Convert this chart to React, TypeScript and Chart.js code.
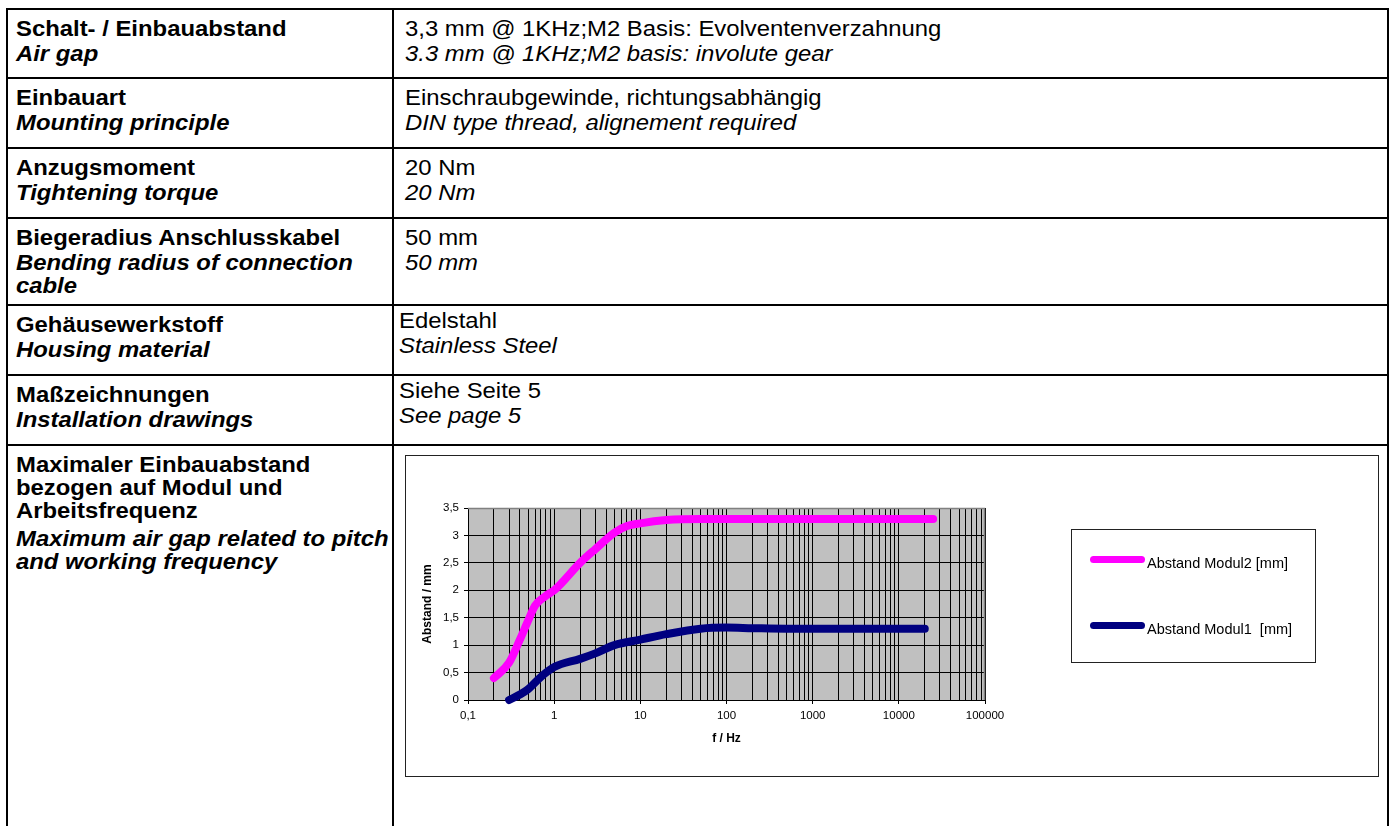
import React, { useEffect, useRef } from 'react';
import { Chart, registerables } from 'chart.js';

Chart.register(...registerables);

// ---------- data ----------
const modul2Freq = [0.2, 0.3, 0.4, 0.5, 0.6, 0.8, 1, 2, 3, 5, 7, 10, 20, 50, 100, 1000, 10000, 25000];
const modul2Gap = [0.4, 0.68, 1.1, 1.45, 1.72, 1.9, 2.0, 2.5, 2.75, 3.05, 3.17, 3.22, 3.28, 3.3, 3.3, 3.3, 3.3, 3.3];

const modul1Freq = [0.3, 0.4, 0.5, 0.7, 1, 2, 3, 5, 10, 20, 50, 100, 200, 500, 1000, 10000, 20000];
const modul1Gap = [0, 0.1, 0.2, 0.42, 0.6, 0.75, 0.85, 1.0, 1.1, 1.2, 1.3, 1.32, 1.31, 1.3, 1.3, 1.3, 1.3];

const seriesLabels = ['Abstand Modul2 [mm]', 'Abstand Modul1  [mm]'];
const seriesColors = ['#ff00ff', '#000080'];

const xMajorTicks = [0.1, 1, 10, 100, 1000, 10000, 100000];
const xTickLabels = ['0,1', '1', '10', '100', '1000', '10000', '100000'];
const xGridMultipliers = [1, 2, 3, 4, 5, 6, 7, 8, 9];

const yTicks = [0, 0.5, 1, 1.5, 2, 2.5, 3, 3.5];
const yTickLabels = ['0', '0,5', '1', '1,5', '2', '2,5', '3', '3,5'];

const xTitle = 'f / Hz';
const yTitle = 'Abstand / mm';

type Line = { text: string; alt?: boolean; gap?: number };
type Row = { left: Line[]; right: Line[] | null; shiftRight?: boolean };

const rows: Row[] = [
  {
    left: [{ text: 'Schalt- / Einbauabstand' }, { text: 'Air gap', alt: true, gap: 2 }],
    right: [
      { text: '3,3 mm @ 1KHz;M2 Basis: Evolventenverzahnung' },
      { text: '3.3 mm @ 1KHz;M2 basis: involute gear', alt: true, gap: 2 },
    ],
  },
  {
    left: [{ text: 'Einbauart' }, { text: 'Mounting principle', alt: true, gap: 2 }],
    right: [
      { text: 'Einschraubgewinde, richtungsabhängig' },
      { text: 'DIN type thread, alignement required', alt: true, gap: 2 },
    ],
  },
  {
    left: [{ text: 'Anzugsmoment' }, { text: 'Tightening torque', alt: true, gap: 2 }],
    right: [{ text: '20 Nm' }, { text: '20 Nm', alt: true, gap: 2 }],
  },
  {
    left: [
      { text: 'Biegeradius Anschlusskabel' },
      { text: 'Bending radius of connection', alt: true, gap: 2 },
      { text: 'cable', alt: true },
    ],
    right: [{ text: '50 mm' }, { text: '50 mm', alt: true, gap: 2 }],
  },
  {
    left: [{ text: 'Gehäusewerkstoff' }, { text: 'Housing material', alt: true, gap: 2 }],
    right: [{ text: 'Edelstahl' }, { text: 'Stainless Steel', alt: true, gap: 2 }],
    shiftRight: true,
  },
  {
    left: [{ text: 'Maßzeichnungen' }, { text: 'Installation drawings', alt: true, gap: 2 }],
    right: [{ text: 'Siehe Seite 5' }, { text: 'See page 5', alt: true, gap: 2 }],
    shiftRight: true,
  },
  {
    left: [
      { text: 'Maximaler Einbauabstand' },
      { text: 'bezogen auf Modul und' },
      { text: 'Arbeitsfrequenz' },
      { text: 'Maximum air gap related to pitch', alt: true, gap: 5 },
      { text: 'and working frequency', alt: true },
    ],
    right: null,
  },
];

const FONT = '"Liberation Sans", Arial, Helvetica, sans-serif';
const rowLineTops = [8, 77, 147, 217, 304, 374, 444];

function TextBlock({ lines, bold, left, top }: { lines: Line[]; bold: boolean; left: number; top: number }) {
  return (
    <div
      style={{
        position: 'absolute',
        left,
        top,
        fontFamily: FONT,
        fontSize: 21.5,
        lineHeight: '23px',
        whiteSpace: 'pre',
        color: '#000',
        transform: 'scaleX(1.11)',
        transformOrigin: 'left top',
      }}
    >
      {lines.map((l, i) => (
        <div
          key={i}
          style={{
            fontWeight: bold ? 'bold' : 'normal',
            fontStyle: l.alt ? 'italic' : 'normal',
            marginTop: l.gap || 0,
          }}
        >
          {l.text}
        </div>
      ))}
    </div>
  );
}

const plotFrame = {
  id: 'plotFrame',
  beforeDraw(chart: any) {
    const { ctx, chartArea: a } = chart;
    ctx.save();
    ctx.fillStyle = '#c0c0c0';
    ctx.fillRect(a.left, a.top, a.right - a.left, a.bottom - a.top);
    ctx.restore();
  },
  beforeDatasetsDraw(chart: any) {
    const { ctx, chartArea: a } = chart;
    ctx.save();
    ctx.strokeStyle = '#808080';
    ctx.lineWidth = 1.5;
    ctx.beginPath();
    ctx.moveTo(a.left, Math.round(a.top) + 0.5);
    ctx.lineTo(Math.round(a.right) - 0.5, Math.round(a.top) + 0.5);
    ctx.lineTo(Math.round(a.right) - 0.5, a.bottom);
    ctx.stroke();
    ctx.restore();
  },
};

function isMajor(v: number) {
  return xMajorTicks.some((m) => Math.abs(Math.log10(m) - Math.log10(v)) < 1e-6);
}

function GapChart() {
  const ref = useRef<HTMLCanvasElement | null>(null);
  useEffect(() => {
    if (!ref.current) return;
    const gridValues: number[] = [];
    xMajorTicks.slice(0, -1).forEach((d) =>
      xGridMultipliers.forEach((m) => gridValues.push(Number((d * m).toPrecision(6))))
    );
    gridValues.push(xMajorTicks[xMajorTicks.length - 1]);

    const chart = new Chart(ref.current, {
      type: 'scatter',
      data: {
        datasets: [
          {
            label: seriesLabels[0],
            data: modul2Freq.map((f, i) => ({ x: f, y: modul2Gap[i] })),
            borderColor: seriesColors[0],
            backgroundColor: seriesColors[0],
            borderWidth: 8,
            borderCapStyle: 'round',
            borderJoinStyle: 'round',
            pointRadius: 0,
            showLine: true,
            cubicInterpolationMode: 'monotone',
            clip: false as any,
          },
          {
            label: seriesLabels[1],
            data: modul1Freq.map((f, i) => ({ x: f, y: modul1Gap[i] })),
            borderColor: seriesColors[1],
            backgroundColor: seriesColors[1],
            borderWidth: 8,
            borderCapStyle: 'round',
            borderJoinStyle: 'round',
            pointRadius: 0,
            showLine: true,
            cubicInterpolationMode: 'monotone',
            clip: false as any,
          },
        ],
      },
      options: {
        animation: false,
        responsive: false,
        maintainAspectRatio: false,
        events: [],
        layout: { padding: { left: 0, top: 52, right: 393, bottom: 0 } },
        plugins: { legend: { display: false }, tooltip: { enabled: false } },
        scales: {
          x: {
            type: 'logarithmic',
            min: 0.1,
            max: 100000,
            afterBuildTicks: (scale: any) => {
              scale.ticks = gridValues.map((v) => ({ value: v, major: false }));
            },
            afterFit: (scale: any) => {
              scale.height = 76;
            },
            ticks: {
              autoSkip: false,
              maxRotation: 0,
              minRotation: 0,
              padding: 5,
              color: '#000',
              font: { family: FONT, size: 11.5 },
              callback: (value: any) => {
                const v = Number(value);
                const i = xMajorTicks.findIndex((m) => Math.abs(Math.log10(m) - Math.log10(v)) < 1e-6);
                return i >= 0 ? xTickLabels[i] : '';
              },
            },
            grid: {
              color: '#000',
              lineWidth: 1,
              tickLength: 4,
              tickColor: (ctx: any) => (ctx.tick && isMajor(ctx.tick.value) ? '#000' : 'rgba(0,0,0,0)'),
            },
            border: { color: '#000', width: 1 },
            title: {
              display: true,
              text: xTitle,
              color: '#000',
              font: { family: FONT, size: 12, weight: 'bold' },
              padding: { top: 0, bottom: 30 },
            },
          },
          y: {
            type: 'linear',
            min: 0,
            max: 3.5,
            afterBuildTicks: (scale: any) => {
              scale.ticks = yTicks.map((v) => ({ value: v }));
            },
            afterFit: (scale: any) => {
              scale.width = 62;
            },
            ticks: {
              padding: 5,
              color: '#000',
              font: { family: FONT, size: 11.5 },
              callback: (value: any) => {
                const i = yTicks.indexOf(Number(value));
                return i >= 0 ? yTickLabels[i] : '';
              },
            },
            grid: { color: '#000', lineWidth: 1, tickLength: 4, tickColor: '#000' },
            border: { color: '#000', width: 1 },
            title: {
              display: true,
              text: yTitle,
              color: '#000',
              font: { family: FONT, size: 12, weight: 'bold' },
              padding: { top: 14, bottom: 0 },
            },
          },
        },
      } as any,
      plugins: [plotFrame],
    });
    return () => chart.destroy();
  }, []);
  return <canvas ref={ref} width={972} height={320} style={{ display: 'block', width: 972, height: 320 }} />;
}

export default function App() {
  const lineColor = '#000';
  return (
    <div style={{ position: 'absolute', left: 0, top: 0, width: 1391, height: 826, overflow: 'hidden', background: '#fff' }}>
      {/* table outer vertical borders */}
      <div style={{ position: 'absolute', left: 6, top: 8, width: 2, height: 830, background: lineColor }} />
      <div style={{ position: 'absolute', left: 392, top: 8, width: 2, height: 830, background: lineColor }} />
      <div style={{ position: 'absolute', left: 1387, top: 8, width: 2, height: 830, background: lineColor }} />
      {rowLineTops.map((t, i) => (
        <div key={i} style={{ position: 'absolute', left: 6, top: t, width: 1383, height: 2, background: lineColor }} />
      ))}

      {rows.map((r, i) => {
        const base = rowLineTops[i] + 1;
        return (
          <React.Fragment key={i}>
            <TextBlock lines={r.left} bold left={16} top={base + 9} />
            {r.right && (
              <TextBlock
                lines={r.right}
                bold={false}
                left={r.shiftRight ? 399 : 405}
                top={base + 9 - (r.shiftRight ? 4 : 0)}
              />
            )}
          </React.Fragment>
        );
      })}

      {/* chart box */}
      <div
        style={{
          position: 'absolute',
          left: 405,
          top: 455,
          width: 972,
          height: 320,
          border: '1px solid #222',
          background: '#fff',
        }}
      >
        <GapChart />
        {/* legend */}
        <div
          style={{
            position: 'absolute',
            left: 1071 - 406,
            top: 529 - 456,
            width: 243,
            height: 132,
            border: '1px solid #222',
            fontFamily: FONT,
            fontSize: 14.5,
            color: '#000',
          }}
        >
          {seriesLabels.map((lab, i) => (
            <div key={i} style={{ position: 'absolute', left: 18, top: 22 + i * 66, height: 20, whiteSpace: 'pre' }}>
              <span
                style={{
                  position: 'absolute',
                  left: 0,
                  top: 4,
                  width: 55,
                  height: 7,
                  borderRadius: 4,
                  background: seriesColors[i],
                }}
              />
              <span style={{ position: 'absolute', left: 57, top: 3, lineHeight: '17px' }}>{lab}</span>
            </div>
          ))}
        </div>
      </div>
    </div>
  );
}
